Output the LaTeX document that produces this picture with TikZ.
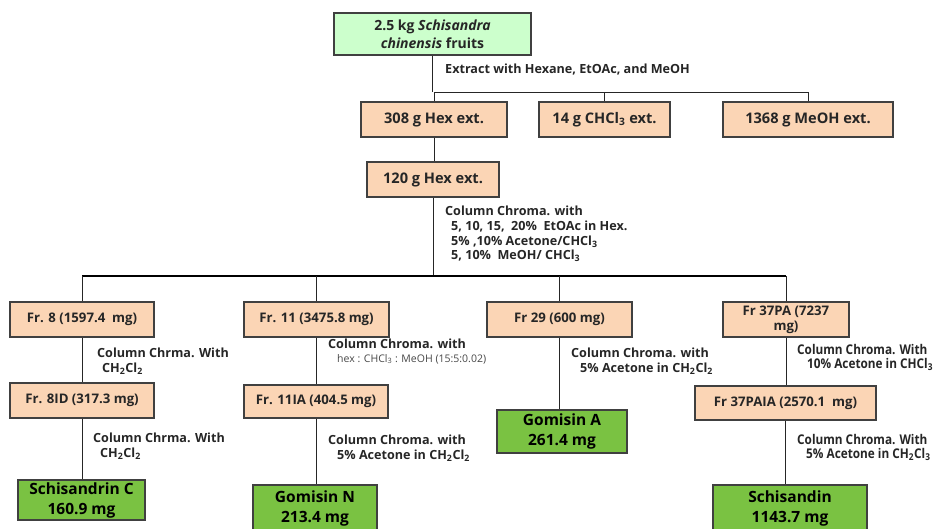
\documentclass[tikz,border=0pt]{standalone}
\usepackage{fontspec}
\setmainfont{Open Sans}
\newfontfamily\condfont[FakeStretch=0.88]{Open Sans}

\definecolor{paleg}{RGB}{204,255,204}
\definecolor{peach}{RGB}{251,213,181}
\definecolor{leaf}{RGB}{122,194,66}
\definecolor{edgec}{RGB}{64,64,64}
\definecolor{ink}{RGB}{38,38,38}

\begin{document}
\begin{tikzpicture}[x=1pt,y=-1pt,
  box/.style={draw=edgec, line width=1.3pt, inner sep=0pt, align=center, text=ink,
    font=\bfseries\fontsize{13.2}{15}\selectfont},
  extbox/.style={box, fill=peach, font=\bfseries\fontsize{14.6}{17}\selectfont},
  frbox/.style={box, fill=peach},
  resbox/.style={box, fill=leaf, text=black, font=\bfseries\fontsize{15.5}{20}\selectfont},
  topbox/.style={box, fill=paleg, font=\bfseries\fontsize{14}{18}\selectfont},
  lbl/.style={anchor=west, inner sep=0pt, text=ink, font=\bfseries\fontsize{12.6}{14}\selectfont},
  clbl/.style={lbl, align=left, font=\condfont\bfseries\fontsize{13.4}{13.5}\selectfont},
  thinlbl/.style={lbl, font=\fontsize{10.5}{12}\selectfont, text=ink!85},
  link/.style={draw=ink, line width=1pt},
  bus/.style={draw=black, line width=2.5pt}
]
\useasboundingbox[fill=white] (0,0) rectangle (938,528);

% boxes
\node[topbox, minimum width=197pt, minimum height=42pt] (top) at (432.5,34)
  {2.5 kg \textit{Schisandra}\\\textit{chinensis} fruits};
\node[extbox, minimum width=146pt, minimum height=35pt] (hex308) at (434,119.5) {308 g Hex ext.};
\node[extbox, minimum width=131pt, minimum height=35pt] (chcl3) at (604.5,119.5) {14 g CHCl\textsubscript{3} ext.};
\node[extbox, minimum width=170pt, minimum height=35pt] (meoh) at (808,119.5) {1368 g MeOH ext.};
\node[extbox, minimum width=132pt, minimum height=35pt] (hex120) at (433,179.5) {120 g Hex ext.};

\node[frbox, minimum width=144pt, minimum height=35pt] (fr8) at (82,319.5) {Fr. 8 (1597.4~ mg)};
\node[frbox, minimum width=145pt, minimum height=35pt] (fr11) at (316.5,319.5) {Fr. 11 (3475.8 mg)};
\node[frbox, minimum width=145pt, minimum height=35pt] (fr29) at (559.5,319.5) {Fr 29 (600 mg)};
\node[frbox, minimum width=126pt, minimum height=35pt] (fr37) at (786,319.5) {Fr 37PA (7237\\mg)};

\node[frbox, minimum width=144pt, minimum height=35pt] (fr8id) at (82,400.5) {Fr. 8ID (317.3 mg)};
\node[frbox, minimum width=144pt, minimum height=33pt] (fr11ia) at (316,401.5) {Fr. 11IA (404.5 mg)};
\node[frbox, minimum width=181pt, minimum height=34pt] (fr37paia) at (785.5,403) {Fr 37PAIA (2570.1~ mg)};

\node[resbox, minimum width=127pt, minimum height=40pt] (schc) at (81.5,500) {Schisandrin C\\160.9 mg};
\node[resbox, minimum width=124pt, minimum height=46pt] (gomn) at (315,508) {Gomisin N\\213.4 mg};
\node[resbox, minimum width=130pt, minimum height=43pt] (goma) at (562,431.5) {Gomisin A\\261.4 mg};
\node[resbox, minimum width=154pt, minimum height=46pt] (schis) at (790,508) {Schisandin\\1143.7 mg};

% junctions
\coordinate (j1) at (433,92);
\coordinate (j2) at (433,276);

% connectors
\draw[link] (top.south) -- (top.south |- j1);
\draw[link] (hex308.north |- j1) -- (meoh.north |- j1);
\draw[link] (hex308.north |- j1) -- (hex308.north);
\draw[link] (chcl3.north |- j1) -- (chcl3.north);
\draw[link] (meoh.north |- j1) -- (meoh.north);
\draw[link] (hex308.south) -- (hex308.south |- hex120.north);
\draw[link] (hex120.south) -- (j2);
\draw[bus] (fr8.north |- j2) -- (fr37.north |- j2);
\draw[link] (fr8.north |- j2) -- (fr8.north);
\draw[link] (fr11.north |- j2) -- (fr11.north);
\draw[link] (fr29.north |- j2) -- (fr29.north);
\draw[link] (fr37.north |- j2) -- (fr37.north);
\draw[link] (fr8.south) -- (fr8id.north);
\draw[link] (fr8id.south) -- (fr8id.south |- schc.north);
\draw[link] (fr11.south) -- (fr11.south |- fr11ia.north);
\draw[link] (fr11ia.south) -- (fr11ia.south |- gomn.north);
\draw[link] (fr29.south) -- (fr29.south |- goma.north);
\draw[link] (fr37.south) -- (fr37.south |- fr37paia.north);
\draw[link] (fr37paia.south) -- (fr37paia.south |- schis.north);

% labels
\node[lbl] (ext) at (445,70) {Extract with Hexane, EtOAc, and MeOH};
\node[lbl] (cc1) at (445,211) {Column Chroma. with};
\node[lbl] (cc2) at (451,227) {5, 10, 15, ~20\% ~EtOAc in Hex.};
\node[lbl] (cc3) at (451,242) {5\% ,10\% Acetone/CHCl\textsubscript{3}};
\node[lbl] (cc4) at (451,256) {5, 10\% ~MeOH/ CHCl\textsubscript{3}};

\node[lbl] (l8a) at (97,353) {Column Chrma. With};
\node[lbl] (l8b) at (102,369) {CH\textsubscript{2}Cl\textsubscript{2}};
\node[lbl] (l8c) at (93,438) {Column Chrma. With};
\node[lbl] (l8d) at (100,454) {CH\textsubscript{2}Cl\textsubscript{2}};

\node[lbl] (l11a) at (328,344) {Column Chroma. with};
\node[thinlbl] (l11b) at (337,359) {hex : CHCl\textsubscript{3} : MeOH (15:5:0.02)};
\node[lbl] (l11c) at (328,440) {Column Chroma. with};
\node[lbl] (l11d) at (337,456) {5\% Acetone in CH\textsubscript{2}Cl\textsubscript{2}};

\node[lbl] (l29a) at (571,353) {Column Chroma. with};
\node[lbl] (l29b) at (580,369) {5\% Acetone in CH\textsubscript{2}Cl\textsubscript{2}};

\node[clbl] (l37a) at (797,357.5) {Column Chroma. With\\\hspace*{10pt}10\% Acetone in CHCl\textsubscript{3}};
\node[clbl] (l37c) at (797,447.5) {Column Chroma. With\\\hspace*{9pt}5\% Acetone in CH\textsubscript{2}Cl\textsubscript{3}};
\end{tikzpicture}
\end{document}
